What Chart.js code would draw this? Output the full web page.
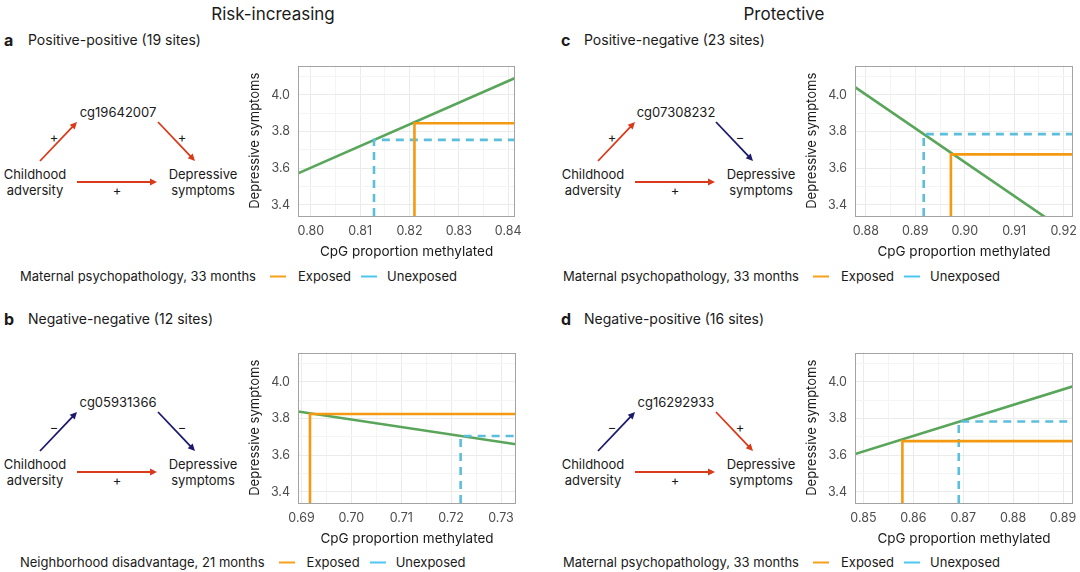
<!DOCTYPE html>
<html><head><meta charset="utf-8">
<script src="https://cdn.jsdelivr.net/npm/chart.js@4.4.1/dist/chart.umd.min.js"></script>
<style>
body{margin:0;background:#fff;font-family:Inter,"Noto Sans",sans-serif;color:#1a1a1a;}
#fig{position:relative;width:1080px;height:572px;overflow:hidden;background:#fff;}
.abs{position:absolute;white-space:nowrap;line-height:1;}
.hdr{font-size:17px;transform:translate(-50%,-50%);}
.plab{font-weight:700;font-size:16px;transform:translateY(-50%);}
.ptit{font-size:14px;transform:translateY(-50%);}
canvas.cv{position:absolute;}
.legend{position:absolute;display:flex;align-items:center;font-size:13px;line-height:1;white-space:nowrap;transform:translateY(-50%);}
.legend .sw{display:inline-block;width:16px;height:2px;}
svg{position:absolute;left:0;top:0;}
</style>
</head><body>
<div id="fig">
  <svg id="diag" width="1080" height="572"></svg>
</div>
<script>
// ---- data ----
const panelLetters = ['a', 'b', 'c', 'd'];
const panelTitles = ['Positive-positive (19 sites)', 'Negative-negative (12 sites)', 'Positive-negative (23 sites)', 'Negative-positive (16 sites)'];
const groupHeaders = ['Risk-increasing', 'Protective'];
const cpgSites = ['cg19642007', 'cg05931366', 'cg07308232', 'cg16292933'];
// signs of paths: adversity->CpG, CpG->symptoms, adversity->symptoms
const pathSigns = [['+', '+', '+'], ['\u2212', '\u2212', '+'], ['+', '\u2212', '+'], ['\u2212', '+', '+']];
const exposureLabels = ['Maternal psychopathology, 33 months', 'Neighborhood disadvantage, 21 months', 'Maternal psychopathology, 33 months', 'Maternal psychopathology, 33 months'];
const seriesNames = ['Exposed', 'Unexposed'];

// fitted (green) line end points
const fitX = [[0.7974, 0.8414], [0.6893, 0.7330], [0.8778, 0.9219], [0.8483, 0.8920]];
const fitY = [[3.572, 4.092], [3.839, 3.660], [4.042, 3.230], [3.607, 3.976]];
// exposed / unexposed mean methylation and predicted symptoms
const exposedX = [0.8210, 0.6917, 0.8972, 0.8578];
const exposedY = [3.845, 3.825, 3.676, 3.677];
const unexposedX = [0.8128, 0.7219, 0.8917, 0.8691];
const unexposedY = [3.755, 3.705, 3.786, 3.784];

// axis limits and tick labels
const xLimits = [[0.7974, 0.8414], [0.6893, 0.7330], [0.8778, 0.9219], [0.8483, 0.8920]];
const xTickLabels = [[0.80, 0.81, 0.82, 0.83, 0.84], [0.69, 0.70, 0.71, 0.72, 0.73], [0.88, 0.89, 0.90, 0.91, 0.92], [0.85, 0.86, 0.87, 0.88, 0.89]];
const yLimits = [3.34, 4.16];
const yTickLabels = [3.4, 3.6, 3.8, 4.0];
const xTitle = 'CpG proportion methylated';
const yTitle = 'Depressive symptoms';

// ---- styling / layout ----
const ORANGE = '#F39A12', BLUE = '#5BBFDB', GREEN = '#59A55A';
const LEG_ORANGE = '#F7A11A', LEG_BLUE = '#4FC6F2';
const RED = '#D83A1A', NAVY = '#1D1A6E';
const canvasPos = [[240, 50], [240, 337], [797, 50], [797, 337]];
const diagOff = [[0, 0], [0, 290], [558, 0], [558, 290]];
const titlePos = [[4, 28, 40], [4, 28, 319], [561, 584, 40], [561, 584, 319]];
const legendPos = [[20, 276], [20, 562], [563, 276], [563, 562]];

Chart.defaults.font.family = 'Inter, "Noto Sans", sans-serif';

const fig = document.getElementById('fig');
function addDiv(cls, txt, css) {
  const d = document.createElement('div');
  d.className = 'abs ' + cls; d.textContent = txt;
  Object.assign(d.style, css); fig.appendChild(d); return d;
}
addDiv('hdr', groupHeaders[0], {left: '273px', top: '14px'});
addDiv('hdr', groupHeaders[1], {left: '784px', top: '14px'});

const svg = document.getElementById('diag');
const NS = 'http://www.w3.org/2000/svg';
function sEl(tag, attrs, txt) {
  const e = document.createElementNS(NS, tag);
  for (const k in attrs) e.setAttribute(k, attrs[k]);
  if (txt !== undefined) e.textContent = txt;
  svg.appendChild(e); return e;
}
function arrow(x1, y1, x2, y2, col) {
  const L = Math.hypot(x2 - x1, y2 - y1), ux = (x2 - x1) / L, uy = (y2 - y1) / L;
  const hl = 7, hw = 3.4;
  const bx = x2 - ux * hl, by = y2 - uy * hl;
  sEl('line', {x1, y1, x2: bx + ux, y2: by + uy, stroke: col, 'stroke-width': 1.8});
  sEl('polygon', {points: `${x2},${y2} ${bx - uy * hw},${by + ux * hw} ${bx + uy * hw},${by - ux * hw}`, fill: col});
}
function txt(x, y, t, size) {
  sEl('text', {x, y, 'text-anchor': 'middle', 'dominant-baseline': 'central', 'font-size': size, fill: '#1a1a1a', 'font-family': 'Inter, Noto Sans, sans-serif'}, t);
}

for (let i = 0; i < 4; i++) {
  const [dx, dy] = diagOff[i];
  const s = pathSigns[i];
  const col = v => v === '+' ? RED : NAVY;
  txt(118 + dx, 112 + dy, cpgSites[i], 13);
  txt(35 + dx, 174 + dy, 'Childhood', 13);
  txt(35 + dx, 190 + dy, 'adversity', 13);
  txt(203 + dx, 174 + dy, 'Depressive', 13);
  txt(203 + dx, 190 + dy, 'symptoms', 13);
  arrow(40 + dx, 161 + dy, 77 + dx, 122 + dy, col(s[0]));
  arrow(158 + dx, 122 + dy, 195 + dx, 161 + dy, col(s[1]));
  arrow(77 + dx, 182 + dy, 157 + dx, 182 + dy, col(s[2]));
  txt(54 + dx, 137 + dy, s[0], 13);
  txt(182 + dx, 137 + dy, s[1], 13);
  txt(117 + dx, 190 + dy, s[2], 13);

  const tp = titlePos[i];
  addDiv('plab', panelLetters[i], {left: tp[0] + 'px', top: tp[2] + 'px'});
  addDiv('ptit', panelTitles[i], {left: tp[1] + 'px', top: tp[2] + 'px'});

  const lg = document.createElement('div');
  lg.className = 'legend';
  lg.style.left = legendPos[i][0] + 'px'; lg.style.top = legendPos[i][1] + 'px';
  lg.innerHTML = `<span>${exposureLabels[i]}</span><span class="sw" style="background:${LEG_ORANGE};margin:0 12px 0 14px"></span><span>${seriesNames[0]}</span><span class="sw" style="background:${LEG_BLUE};margin:0 10px 0 10px"></span><span>${seriesNames[1]}</span>`;
  fig.appendChild(lg);
}

const framePlugin = {
  id: 'frame',
  afterDraw(chart) {
    const a = chart.chartArea, c = chart.ctx;
    c.save(); c.strokeStyle = '#a3a3a3'; c.lineWidth = 1;
    c.strokeRect(Math.round(a.left) + 0.5, Math.round(a.top) + 0.5, Math.round(a.right - a.left) - 1, Math.round(a.bottom - a.top) - 1);
    c.restore();
  }
};

function withMinors(majors, step, lo, hi) {
  const out = majors.map(v => ({value: v, major: true}));
  const cand = [majors[0] - step / 2].concat(majors.map(v => v + step / 2));
  cand.forEach(v => out.push({value: v, major: false}));
  return out.filter(t => t.value >= lo - 1e-9 && t.value <= hi + 1e-9).sort((p, q) => p.value - q.value);
}

for (let i = 0; i < 4; i++) {
  const cv = document.createElement('canvas');
  cv.className = 'cv'; cv.width = 290; cv.height = 220;
  cv.style.left = canvasPos[i][0] + 'px'; cv.style.top = canvasPos[i][1] + 'px';
  cv.style.width = '290px'; cv.style.height = '220px';
  fig.appendChild(cv);
  const [xMin, xMax] = xLimits[i];
  const [yMin, yMax] = yLimits;
  const common = {pointRadius: 0, borderWidth: 2.6, clip: 0, tension: 0, fill: false, borderCapStyle: 'butt', borderJoinStyle: 'miter'};
  new Chart(cv, {
    type: 'line',
    data: {
      datasets: [
        Object.assign({label: seriesNames[0], data: [{x: exposedX[i], y: yMin}, {x: exposedX[i], y: exposedY[i]}, {x: xMax, y: exposedY[i]}], borderColor: ORANGE}, common),
        Object.assign({label: seriesNames[1], data: [{x: unexposedX[i], y: yMin}, {x: unexposedX[i], y: unexposedY[i]}, {x: xMax, y: unexposedY[i]}], borderColor: BLUE, borderDash: [8, 6]}, common),
        Object.assign({label: 'Fit', data: fitX[i].map((x, k) => ({x, y: fitY[i][k]})), borderColor: GREEN}, common)
      ]
    },
    options: {
      responsive: false, animation: false, devicePixelRatio: 1,
      layout: {padding: {left: 0, right: 14, top: 10, bottom: 0}},
      plugins: {legend: {display: false}, tooltip: {enabled: false}},
      scales: {
        x: {
          type: 'linear', min: xMin, max: xMax,
          afterBuildTicks: s => { s.ticks = withMinors(xTickLabels[i], 0.01, xMin, xMax); },
          afterFit: s => { s.height = 54; },
          ticks: {autoSkip: false, maxRotation: 0, padding: 8, color: '#4d4d4d', font: {size: 12.5},
            callback: (v, k, t) => t[k].major ? v.toFixed(2) : ''},
          grid: {drawTicks: false, color: c => (c.tick && c.tick.major) ? '#ebebeb' : '#f4f4f4', lineWidth: 1},
          border: {display: false},
          title: {display: true, text: xTitle, color: '#1a1a1a', font: {size: 13.5}, padding: {top: 0, bottom: 10}}
        },
        y: {
          type: 'linear', min: yMin, max: yMax,
          afterBuildTicks: s => { s.ticks = withMinors(yTickLabels, 0.2, yMin, yMax); },
          afterFit: s => { s.width = 58; },
          ticks: {autoSkip: false, padding: 8, color: '#4d4d4d', font: {size: 12.5},
            callback: (v, k, t) => t[k].major ? v.toFixed(1) : ''},
          grid: {drawTicks: false, color: c => (c.tick && c.tick.major) ? '#ebebeb' : '#f4f4f4', lineWidth: 1},
          border: {display: false},
          title: {display: true, text: yTitle, color: '#1a1a1a', font: {size: 13}, padding: {top: 7, bottom: 0}}
        }
      }
    },
    plugins: [framePlugin]
  });
}
</script>
</body></html>
